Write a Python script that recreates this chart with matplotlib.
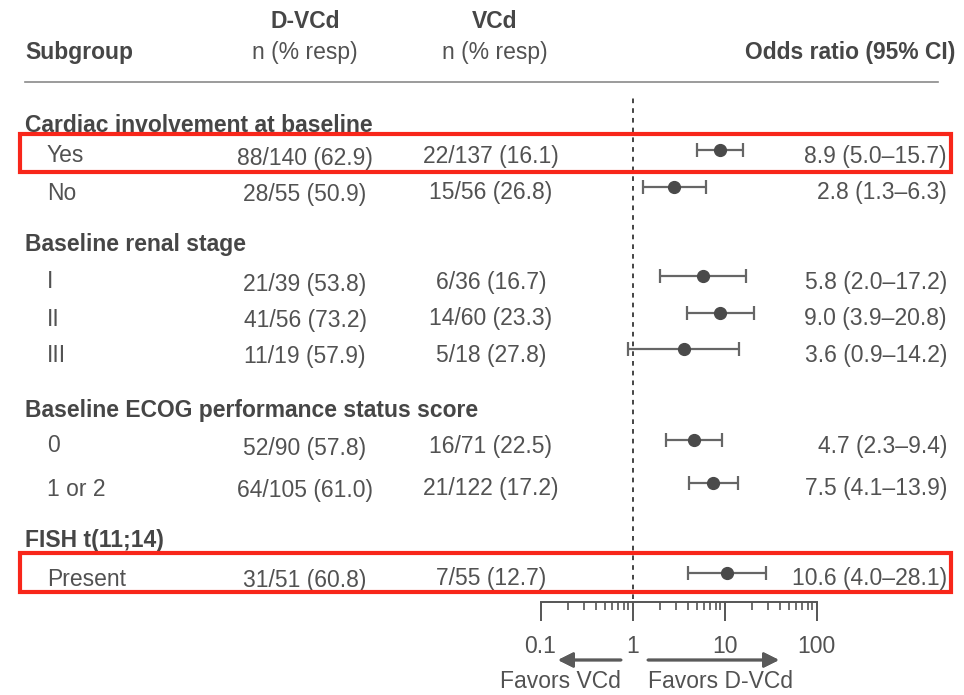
import matplotlib
matplotlib.use("Agg")
import matplotlib.pyplot as plt
from matplotlib.patches import Rectangle
from matplotlib.lines import Line2D
from matplotlib.ticker import LogLocator, FixedLocator, FixedFormatter, NullFormatter

plt.rcParams["font.family"] = ["Liberation Sans", "DejaVu Sans"]

# ---- data -------------------------------------------------------------
sections = ["Cardiac involvement at baseline", "Baseline renal stage",
            "Baseline ECOG performance status score", "FISH t(11;14)"]
subgroups = ["Yes", "No", "I", "II", "III", "0", "1 or 2", "Present"]
dvcd_resp = [88, 28, 21, 41, 11, 52, 64, 31]
dvcd_n = [140, 55, 39, 56, 19, 90, 105, 51]
vcd_resp = [22, 15, 6, 14, 5, 16, 21, 7]
vcd_n = [137, 56, 36, 60, 18, 71, 122, 55]
odds_ratio = [8.9, 2.8, 5.8, 9.0, 3.6, 4.7, 7.5, 10.6]
ci_low = [5.0, 1.3, 2.0, 3.9, 0.9, 2.3, 4.1, 4.0]
ci_high = [15.7, 6.3, 17.2, 20.8, 14.2, 9.4, 13.9, 28.1]
highlighted = ["Yes", "Present"]
axis_ticks = [0.1, 1, 10, 100]
axis_tick_labels = ["0.1", "1", "10", "100"]

# ---- layout (pixel rows) -----------------------------------------------
W, H = 964, 695
section_y = [125, 245, 410, 540]
row_y = [150, 187, 276, 313, 349, 440, 483, 573]
text_dy = 6
box_spans = {"Yes": (134, 172), "Present": (553, 592)}

TXT = "#525252"
HEAD = "#464646"
MARK = "#4a4a4a"
LINE = "#666666"
RED = "#f8261a"
FS = 16.5

fig = plt.figure(figsize=(W / 100, H / 100), dpi=100)


def fx(x):
    return x / W


def fy(y):
    return 1 - y / H


def put(x, y, s, ha="left", bold=False, color=TXT, size=FS):
    fig.text(fx(x), fy(y), s, ha=ha, va="center", fontsize=size,
             fontweight="bold" if bold else "normal", color=color)


# header
put(25, 52, "Subgroup", bold=True, color=HEAD)
put(305, 22, "D-VCd", ha="center", bold=True, color=HEAD)
put(305, 52, "n (% resp)", ha="center")
put(495, 22, "VCd", ha="center", bold=True, color=HEAD)
put(495, 52, "n (% resp)", ha="center")
put(955, 52, "Odds ratio (95% CI)", ha="right", bold=True, color=HEAD)
fig.add_artist(Line2D([fx(25), fx(938)], [fy(82), fy(82)], color="#8a8a8a",
                      lw=1.2, transform=fig.transFigure))

for s, y in zip(sections, section_y):
    put(25, y, s, bold=True, color=HEAD)

for i, name in enumerate(subgroups):
    ty = row_y[i] + text_dy
    put(47, ty, name)
    put(305, ty + 2, f"{dvcd_resp[i]}/{dvcd_n[i]} ({100 * dvcd_resp[i] / dvcd_n[i]:.1f})", ha="center")
    put(491, ty, f"{vcd_resp[i]}/{vcd_n[i]} ({100 * vcd_resp[i] / vcd_n[i]:.1f})", ha="center")
    put(947, ty, f"{odds_ratio[i]:.1f} ({ci_low[i]:.1f}\u2013{ci_high[i]:.1f})", ha="right")

# highlight boxes
for name in highlighted:
    y0, y1 = box_spans[name]
    fig.add_artist(Rectangle((fx(20), fy(y1)), fx(951) - fx(20), fy(y0) - fy(y1),
                             fill=False, edgecolor=RED, lw=3,
                             transform=fig.transFigure, zorder=5))

# ---- forest plot ------------------------------------------------------
x0, x1 = 540.5, 816.5
ytop, ybot = 95, 602
ax = fig.add_axes([fx(x0), fy(ybot), fx(x1) - fx(x0), (ybot - ytop) / H])
ax.set_xscale("log")
ax.set_xlim(0.1, 100)
ax.set_ylim(ybot, ytop)
ax.patch.set_alpha(0)
for side in ("top", "right", "left"):
    ax.spines[side].set_visible(False)
ax.spines["bottom"].set_color("#555555")
ax.spines["bottom"].set_linewidth(1.4)
ax.set_yticks([])

ax.axvline(1, ymin=0.005, ymax=1, color="#444444", lw=1.4, ls=(0, (2.4, 2.6)))

for i in range(len(subgroups)):
    ax.errorbar(odds_ratio[i], row_y[i],
                xerr=[[odds_ratio[i] - ci_low[i]], [ci_high[i] - odds_ratio[i]]],
                fmt="o", color=MARK, ecolor=LINE, elinewidth=1.6, capsize=5,
                capthick=1.6, markersize=8.5, clip_on=False)

ax.xaxis.set_major_locator(FixedLocator(axis_ticks))
ax.xaxis.set_major_formatter(FixedFormatter(axis_tick_labels))
ax.xaxis.set_minor_locator(LogLocator(base=10, subs=range(2, 10)))
ax.xaxis.set_minor_formatter(NullFormatter())
ax.tick_params(axis="x", which="major", length=13.5, width=1.4, color="#555555",
               labelsize=16.5, labelcolor=TXT, pad=10)
ax.tick_params(axis="x", which="minor", length=5.5, width=1.2, color="#555555")

# direction arrows
arrow_kw = dict(arrowstyle="-|>,head_length=0.9,head_width=0.45", color="#5a5a5a",
                lw=2.0, shrinkA=0, shrinkB=0)
fig.add_artist(plt.annotate("", xy=(558, H - 660), xytext=(621, H - 660),
                            xycoords="figure pixels", textcoords="figure pixels",
                            arrowprops=arrow_kw, annotation_clip=False))
fig.add_artist(plt.annotate("", xy=(779, H - 660), xytext=(648, H - 660),
                            xycoords="figure pixels", textcoords="figure pixels",
                            arrowprops=arrow_kw, annotation_clip=False))
put(621, 682, "Favors VCd", ha="right")
put(648, 682, "Favors D-VCd", ha="left")

fig.savefig("out.png", dpi=100, facecolor="white")
